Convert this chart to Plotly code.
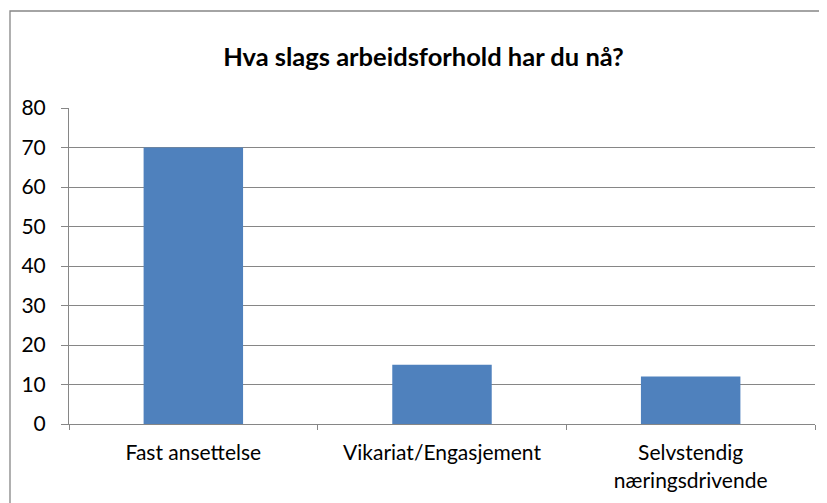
import plotly.graph_objects as go

categories = ["Fast ansettelse", "Vikariat/Engasjement", "Selvstendig<br>næringsdrivende"]
values = [70, 15, 12]
y_ticks = [0, 10, 20, 30, 40, 50, 60, 70, 80]
title_text = "Hva slags arbeidsforhold har du nå?"

# page body has an 8px margin; the figure is sized to fit the 827x503 window
OFF = 8
W, H = 827 - OFF, 503 - OFF
L, R, T, B = 69 - OFF, 12, 108 - OFF, 79
pw, ph = W - L - R, H - T - B
grid = "#868686"
font = "Lato, Carlito, Calibri, sans-serif"

fig = go.Figure(go.Bar(x=categories, y=values, marker=dict(color="#4F81BD", line=dict(width=0)),
                       width=0.4))

fig.update_layout(
    width=W, height=H,
    margin=dict(l=L, r=R, t=T, b=B),
    paper_bgcolor="white", plot_bgcolor="white",
    font=dict(family=font, size=21, color="#000000"),
    showlegend=False,
    title=dict(text="<b>" + title_text + "</b>", x=(423.5 - OFF) / W, xanchor="center",
               y=1 - 49 / H, yanchor="middle", font=dict(size=25.5, family=font)),
    bargap=0.6,
)
fig.update_yaxes(range=[0, 80], tickvals=y_ticks, showgrid=True, gridcolor=grid, gridwidth=1,
                 showline=True, linecolor=grid, linewidth=1, ticks="outside", ticklen=7,
                 tickcolor=grid, ticklabelstandoff=11, zeroline=False)
fig.update_xaxes(showline=True, linecolor=grid, linewidth=1, ticks="outside", ticklen=5,
                 tickcolor=grid, tickson="boundaries", ticklabelstandoff=10)

# outer chart border (partially cropped in reference)
bx0, by1 = 10 - OFF, 11 - OFF
fig.add_shape(type="rect", xref="paper", yref="paper",
              x0=(bx0 - L) / pw, x1=(W + 20 - L) / pw,
              y0=-(H + 20 - T - ph) / ph, y1=(T + ph - by1) / ph,
              line=dict(color=grid, width=1.3), fillcolor="rgba(0,0,0,0)", layer="above")

fig.write_html("out.html")
